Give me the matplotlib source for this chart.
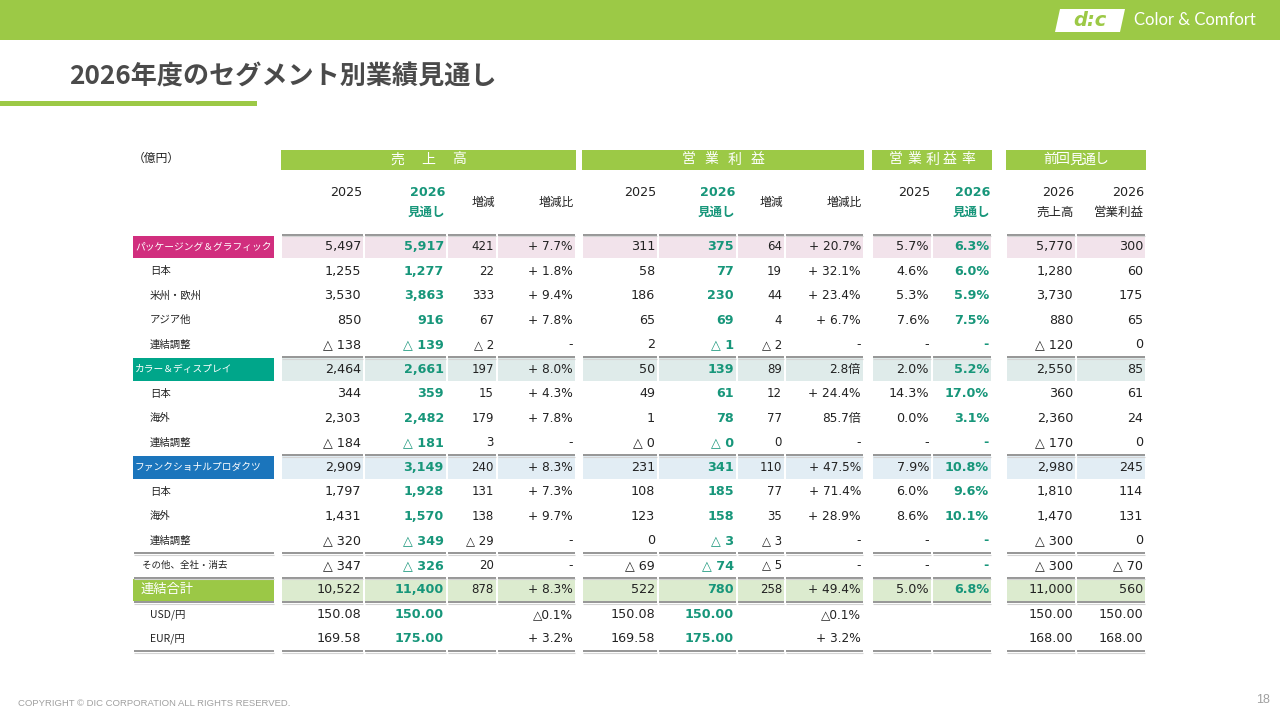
import matplotlib
matplotlib.use('Agg')
import matplotlib.pyplot as plt
from matplotlib.patches import Rectangle, Polygon

# ---- data ----
row_labels = ['パッケージング＆グラフィック', '日本', '米州・欧州', 'アジア他', '連結調整',
              'カラー＆ディスプレイ', '日本', '海外', '連結調整',
              'ファンクショナルプロダクツ', '日本', '海外', '連結調整',
              'その他、全社・消去', '連結合計', 'USD/円', 'EUR/円']
row_kind = ['seg', 'sub', 'sub', 'sub', 'sub',
            'seg', 'sub', 'sub', 'sub',
            'seg', 'sub', 'sub', 'sub',
            'other', 'total', 'sub', 'sub']
seg_color = {0: '#D12E7E', 5: '#00A68A', 9: '#1B75BC', 14: '#9BC846'}
seg_tint = {0: '#F2E3EB', 5: '#DFEBEA', 9: '#E2EDF4', 14: '#DCEBCF'}

sales_2025 = ['5,497', '1,255', '3,530', '850', '△ 138', '2,464', '344', '2,303', '△ 184',
              '2,909', '1,797', '1,431', '△ 320', '△ 347', '10,522', '150.08', '169.58']
sales_2026 = ['5,917', '1,277', '3,863', '916', '△ 139', '2,661', '359', '2,482', '△ 181',
              '3,149', '1,928', '1,570', '△ 349', '△ 326', '11,400', '150.00', '175.00']
sales_diff = ['421', '22', '333', '67', '△ 2', '197', '15', '179', '3',
              '240', '131', '138', '△ 29', '20', '878', '', '']
sales_ratio = ['+ 7.7%', '+ 1.8%', '+ 9.4%', '+ 7.8%', '-', '+ 8.0%', '+ 4.3%', '+ 7.8%', '-',
               '+ 8.3%', '+ 7.3%', '+ 9.7%', '-', '-', '+ 8.3%', '△0.1%', '+ 3.2%']
op_2025 = ['311', '58', '186', '65', '2', '50', '49', '1', '△ 0',
           '231', '108', '123', '0', '△ 69', '522', '150.08', '169.58']
op_2026 = ['375', '77', '230', '69', '△ 1', '139', '61', '78', '△ 0',
           '341', '185', '158', '△ 3', '△ 74', '780', '150.00', '175.00']
op_diff = ['64', '19', '44', '4', '△ 2', '89', '12', '77', '0',
           '110', '77', '35', '△ 3', '△ 5', '258', '', '']
op_ratio = ['+ 20.7%', '+ 32.1%', '+ 23.4%', '+ 6.7%', '-', '2.8倍', '+ 24.4%', '85.7倍', '-',
            '+ 47.5%', '+ 71.4%', '+ 28.9%', '-', '-', '+ 49.4%', '△0.1%', '+ 3.2%']
margin_2025 = ['5.7%', '4.6%', '5.3%', '7.6%', '-', '2.0%', '14.3%', '0.0%', '-',
               '7.9%', '6.0%', '8.6%', '-', '-', '5.0%', '', '']
margin_2026 = ['6.3%', '6.0%', '5.9%', '7.5%', '-', '5.2%', '17.0%', '3.1%', '-',
               '10.8%', '9.6%', '10.1%', '-', '-', '6.8%', '', '']
prev_sales = ['5,770', '1,280', '3,730', '880', '△ 120', '2,550', '360', '2,360', '△ 170',
              '2,980', '1,810', '1,470', '△ 300', '△ 300', '11,000', '150.00', '168.00']
prev_op = ['300', '60', '175', '65', '0', '85', '61', '24', '0',
           '245', '114', '131', '0', '△ 70', '560', '150.00', '168.00']

groups = ['売上高', '営業利益', '営業利益率', '前回見通し']

# columns: (left, right, values, kind, header)
columns = [
    (281, 364, sales_2025, 'n', '2025'),
    (364, 447, sales_2026, 'g', '2026\n見通し'),
    (447, 497, sales_diff, 's', '増減'),
    (497, 576, sales_ratio, 'r', '増減比'),
    (582, 658, op_2025, 'n', '2025'),
    (658, 737, op_2026, 'g', '2026\n見通し'),
    (737, 785, op_diff, 's', '増減'),
    (785, 864, op_ratio, 'r', '増減比'),
    (872, 932, margin_2025, 'n', '2025'),
    (932, 992, margin_2026, 'g', '2026\n見通し'),
    (1006, 1076, prev_sales, 'n', '2026\n売上高'),
    (1076, 1146, prev_op, 'n', '2026\n営業利益'),
]
group_spans = [(281, 576, 31), (582, 864, 23), (872, 992, 18), (1006, 1146, 13)]

GREEN = '#9CC946'
TEAL = '#17967A'
JP = ['Noto Sans CJK JP', 'DejaVu Sans']
NUM = ['DejaVu Sans', 'Noto Sans CJK JP']

fig = plt.figure(figsize=(12.8, 7.2), dpi=100)
ax = fig.add_axes([0, 0, 1, 1])
ax.set_xlim(0, 1280)
ax.set_ylim(720, 0)
ax.axis('off')

# top bar + logo
ax.add_patch(Rectangle((0, 0), 1280, 40, color=GREEN, lw=0))
ax.add_patch(Polygon([(1055, 32), (1060, 9), (1125, 9), (1120, 32)], closed=True,
                     color='white', lw=0))
ax.text(1090, 21, 'd:c', color=GREEN, fontsize=14, fontweight='bold', style='italic',
        ha='center', va='center', family=NUM)
ax.text(1134, 20, 'Color & Comfort', color='white', fontsize=12, family='Lato',
        ha='left', va='center')

# title
ax.text(69, 77, '2026年度のセグメント別業績見通し', fontsize=18.8, fontweight='bold',
        color='#4A4A4A', family=JP, ha='left', va='center')
ax.add_patch(Rectangle((0, 101), 257, 4.5, color=GREEN, lw=0))

ax.text(133, 158, '（億円）', fontsize=8.5, family=JP, ha='left', va='center', color='#222222')

# group header bars with spaced characters
for (l, r, pitch), g in zip(group_spans, groups):
    ax.add_patch(Rectangle((l, 150), r - l, 19.5, color=GREEN, lw=0))
    cx = (l + r) / 2
    n = len(g)
    for k, ch in enumerate(g):
        ax.text(cx + (k - (n - 1) / 2) * pitch, 159.5, ch, color='white', fontsize=10,
                family=JP, ha='center', va='center')

# column headers
for l, r, vals, kind, head in columns:
    col = TEAL if kind == 'g' else '#222222'
    fw = 'bold' if kind == 'g' else 'normal'
    if '\n' in head:
        top, bot = head.split('\n')
        ax.text(r - 2, 193, top, fontsize=9.2, color=col, fontweight=fw, family=NUM,
                ha='right', va='center')
        ax.text(r - 2, 212, bot, fontsize=9, color=col, fontweight=fw, family=JP,
                ha='right', va='center')
    elif head == '2025':
        ax.text(r - 2, 193, head, fontsize=9.2, color=col, family=NUM, ha='right', va='center')
    else:
        ax.text(r - 2, 202, head, fontsize=8.5, color=col, family=JP, ha='right', va='center')

# rows
y0 = 234.5
rh = 24.5
label_l, label_r = 133, 275
line_rows = {0: False, 5: False, 9: False, 13: True, 14: True, 15: True, 17: True}

for i, lab in enumerate(row_labels):
    top = y0 + i * rh
    cy = top + rh / 2
    kind = row_kind[i]
    if i in seg_color:
        ax.add_patch(Rectangle((label_l, top + 1), label_r - label_l - 1, rh - 2,
                               color=seg_color[i], lw=0))
        for l, r, vals, ck, head in columns:
            ax.add_patch(Rectangle((l + 1, top + 1), r - l - 2, rh - 2,
                                   color=seg_tint[i], lw=0))
    if kind == 'seg':
        ax.text(135, cy, lab, color='white', fontsize=7, family=JP, ha='left', va='center')
    elif kind == 'total':
        ax.text(141, cy, lab, color='white', fontsize=9.5, family=JP, ha='left', va='center')
    elif kind == 'other':
        ax.text(142, cy, lab, color='#222222', fontsize=6.8, family=JP, ha='left', va='center')
    else:
        ax.text(150, cy, lab, color='#222222', fontsize=7.5, family=JP, ha='left', va='center')

    for l, r, vals, ck, head in columns:
        v = vals[i]
        if not v:
            continue
        if ck == 'g':
            ax.text(r - 3, cy, v, fontsize=9.2, color=TEAL, fontweight='bold', family=NUM,
                    ha='right', va='center')
        elif ck == 's':
            ax.text(r - 3, cy, v, fontsize=8.5, color='#222222', family=NUM,
                    ha='right', va='center')
        elif ck == 'r':
            ax.text(r - 3, cy, v, fontsize=8.7, color='#222222', family=NUM,
                    ha='right', va='center')
        else:
            ax.text(r - 3, cy, v, fontsize=9.2, color='#222222', family=NUM,
                    ha='right', va='center')

# separator lines
for i, with_label in line_rows.items():
    yy = y0 + i * rh
    spans = [(l, r) for l, r, vals, ck, head in columns]
    if with_label:
        spans = [(label_l, label_r)] + spans
    for l, r in spans:
        ax.plot([l + 1, r - 1], [yy, yy], color='#8E8E8E', lw=1.3, solid_capstyle='butt')
        ax.plot([l + 1, r - 1], [yy + 1.6, yy + 1.6], color='#D4D4D4', lw=0.8,
                solid_capstyle='butt')

# footer
ax.text(18, 703, 'COPYRIGHT © DIC CORPORATION ALL RIGHTS RESERVED.', fontsize=6.8,
        color='#A0A0A0', family='Liberation Sans', ha='left', va='center')
ax.text(1270, 700, '18', fontsize=9, color='#A0A0A0', family='Liberation Sans',
        ha='right', va='center')

fig.savefig('out.png', dpi=100)
